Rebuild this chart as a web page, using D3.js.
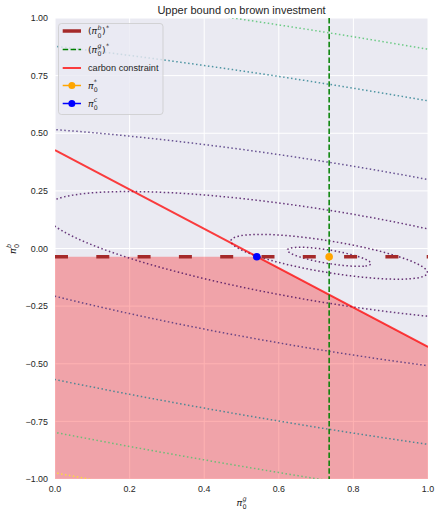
<!DOCTYPE html>
<html>
<head>
<meta charset="utf-8">
<script src="https://cdn.jsdelivr.net/npm/d3@7"></script>
<style>
  body { margin: 0; background: #ffffff; }
  svg { display: block; }
</style>
</head>
<body>
<script>
// ---- data -------------------------------------------------------------
const greenOptimum = 0.735;                 // (π0^g)*
const brownOptimum = -0.036;                // (π0^b)*
const unconstrainedPoint = [0.735, -0.036]; // π0*
const constrainedPoint = [0.541, -0.036];   // π0^c
const carbonX = [0, 1];                     // carbon constraint end points
const carbonY = [0.427, -0.427];
// quadratic loss around π0*:  a·Δg² + b·Δg·Δb + c·Δb²
const lossCoefficients = [0.1362, 0.5178, 1];
const lossLevels = [0.00087, 0.0048, 0.0407, 0.168, 0.56, 0.944, 1.308];
const xTicks = [0, 0.2, 0.4, 0.6, 0.8, 1.0];
const yTicks = [-1, -0.75, -0.5, -0.25, 0, 0.25, 0.5, 0.75, 1];

// ---- layout -----------------------------------------------------------
const W = 435, H = 510;
const plot = { left: 55, right: 428, top: 18, bottom: 479 };
const textColor = "#262626";
const sans = "'Liberation Sans', Arial, sans-serif";
const mathFont = "'DejaVu Sans', sans-serif";

const x = d3.scaleLinear().domain([0, 1]).range([plot.left, plot.right]);
const y = d3.scaleLinear().domain([-1, 1]).range([plot.bottom, plot.top]);
const carbon = d3.scaleLinear().domain(carbonX).range(carbonY);

const svg = d3.select("body").append("svg").attr("width", W).attr("height", H);

svg.append("defs").append("clipPath").attr("id", "plotClip")
  .append("rect")
  .attr("x", plot.left).attr("y", plot.top)
  .attr("width", plot.right - plot.left).attr("height", plot.bottom - plot.top);

// background
svg.append("rect")
  .attr("x", plot.left).attr("y", plot.top)
  .attr("width", plot.right - plot.left).attr("height", plot.bottom - plot.top)
  .attr("fill", "#eaeaf2");

// grid
const grid = svg.append("g").attr("stroke", "#ffffff").attr("stroke-width", 1);
grid.selectAll(".gx").data(xTicks).join("line")
  .attr("x1", d => x(d)).attr("x2", d => x(d))
  .attr("y1", plot.top).attr("y2", plot.bottom);
grid.selectAll(".gy").data(yTicks).join("line")
  .attr("x1", plot.left).attr("x2", plot.right)
  .attr("y1", d => y(d)).attr("y2", d => y(d));

const inner = svg.append("g").attr("clip-path", "url(#plotClip)");

// feasible region: below both the brown bound and the carbon constraint
const fillXs = [0, constrainedPoint[0], 1];
inner.append("path")
  .datum(fillXs)
  .attr("d", d3.area()
    .x(d => x(d))
    .y0(y(-1))
    .y1(d => y(Math.min(brownOptimum, carbon(d)))))
  .attr("fill", "#ff0000")
  .attr("fill-opacity", 0.3);

// contours of the loss
const g0 = -0.5, b0 = 1.5, step = 0.004;
const nx = Math.round(2 / step) + 1, ny = Math.round(3 / step) + 1;
const [ca, cb, cc] = lossCoefficients;
const values = new Float64Array(nx * ny);
for (let j = 0; j < ny; j++) {
  const db = (b0 - j * step) - unconstrainedPoint[1];
  for (let i = 0; i < nx; i++) {
    const dg = (g0 + i * step) - unconstrainedPoint[0];
    values[j * nx + i] = ca * dg * dg + cb * dg * db + cc * db * db;
  }
}
const contours = d3.contours().size([nx, ny]).thresholds(lossLevels)(values);
const toPlot = d3.geoTransform({
  point(px, py) {
    this.stream.point(x(g0 + (px - 0.5) * step), y(b0 - (py - 0.5) * step));
  }
});
const colour = d3.scaleSequential(d3.interpolateViridis)
  .domain(d3.extent(lossLevels));
inner.append("g").selectAll("path").data(contours).join("path")
  .attr("d", d3.geoPath(toPlot))
  .attr("fill", "none")
  .attr("stroke", d => colour(d.value))
  .attr("stroke-opacity", 0.8)
  .attr("stroke-width", 1.5)
  .attr("stroke-dasharray", "1.5,2.5");

// carbon constraint
inner.append("path")
  .datum(carbonX)
  .attr("d", d3.line().x(d => x(d)).y(d => y(carbon(d))))
  .attr("stroke", "#ff0000").attr("stroke-opacity", 0.75)
  .attr("stroke-width", 2).attr("fill", "none");

// (π0^b)* bound
inner.append("line")
  .attr("x1", x(0)).attr("x2", x(1))
  .attr("y1", y(brownOptimum)).attr("y2", y(brownOptimum))
  .attr("stroke", "#a52a2a").attr("stroke-width", 3.5)
  .attr("stroke-dasharray", "13,28.3");

// (π0^g)* bound
inner.append("line")
  .attr("x1", x(greenOptimum)).attr("x2", x(greenOptimum))
  .attr("y1", y(1)).attr("y2", y(-1))
  .attr("stroke", "#008000").attr("stroke-width", 1.5)
  .attr("stroke-dasharray", "5.5,2.4");

// points
inner.append("circle")
  .attr("cx", x(unconstrainedPoint[0])).attr("cy", y(unconstrainedPoint[1]))
  .attr("r", 3.8).attr("fill", "#ffa500");
inner.append("circle")
  .attr("cx", x(constrainedPoint[0])).attr("cy", y(constrainedPoint[1]))
  .attr("r", 3.8).attr("fill", "#0000ff");

// ---- tick labels ------------------------------------------------------
const fmtX = d3.format(".1f");
const fmtY = v => d3.format(".2f")(v).replace("-", "\u2212");
svg.append("g").selectAll("text").data(xTicks).join("text")
  .attr("x", d => x(d)).attr("y", 491.5)
  .attr("text-anchor", "middle")
  .attr("font-family", sans).attr("font-size", 8.9).attr("fill", textColor)
  .text(fmtX);
svg.append("g").selectAll("text").data(yTicks).join("text")
  .attr("x", 48).attr("y", d => y(d) + 3.2)
  .attr("text-anchor", "end")
  .attr("font-family", sans).attr("font-size", 8.9).attr("fill", textColor)
  .text(fmtY);

// title
svg.append("text")
  .attr("x", (plot.left + plot.right) / 2).attr("y", 14)
  .attr("text-anchor", "middle")
  .attr("font-family", sans).attr("font-size", 11).attr("fill", textColor)
  .text("Upper bound on brown investment");

// ---- math labels ------------------------------------------------------
// One <text> per label; parts are plain runs {s} or a symbol {base}
// carrying stacked scripts {sub, sup}.
function mathLabel(parent, px, py, parts, size, anchor) {
  const t = parent.append("text")
    .attr("x", px).attr("y", py)
    .attr("text-anchor", anchor)
    .attr("font-family", mathFont).attr("font-size", size)
    .attr("fill", textColor);
  let level = 0, pendingDx = 0;
  const span = (str, offset, fs, italic, dx) => {
    const s = t.append("tspan")
      .attr("dy", offset - level)
      .attr("dx", dx)
      .attr("font-size", fs)
      .attr("font-style", italic ? "oblique" : "normal")
      .text(str);
    level = offset;
    return s.node().getComputedTextLength();
  };
  const subOff = size * 0.36, supOff = -size * 0.46, small = size * 0.68;
  parts.forEach(p => {
    if (p.s) { span(p.s, 0, size, false, pendingDx); pendingDx = 0; }
    if (p.base) { span(p.base, 0, size, true, pendingDx); pendingDx = 0; }
    let subW = 0, supW = 0;
    if (p.sub) { subW = span(p.sub, subOff, small, false, pendingDx + 0.3); pendingDx = 0; }
    if (p.sup) {
      supW = span(p.sup, supOff, small, p.supItalic, p.sub ? -subW : pendingDx + 0.3);
      pendingDx = 0;
    }
    if (p.sub || p.sup) pendingDx = Math.max(0, subW - supW) + 0.6;
  });
  return t;
}

// axis labels
mathLabel(svg, (plot.left + plot.right) / 2, 505.5,
  [{ base: "\u03c0", sub: "0", sup: "g", supItalic: true }], 9.5, "middle");
const yl = svg.append("g").attr("transform", "translate(15.5,249) rotate(-90)");
mathLabel(yl, 0, 0,
  [{ base: "\u03c0", sub: "0", sup: "b", supItalic: true }], 9.5, "middle");

// ---- legend -----------------------------------------------------------
const legend = svg.append("g");
legend.append("rect")
  .attr("x", 58.5).attr("y", 23.5).attr("width", 104.5).attr("height", 91)
  .attr("rx", 3)
  .attr("fill", "#eaeaf2").attr("fill-opacity", 0.8)
  .attr("stroke", "#cccccc").attr("stroke-opacity", 0.8).attr("stroke-width", 1);

const lx0 = 62.7, lx1 = 81, tx = 88;
const entries = [
  { y: 31, stroke: "#a52a2a", width: 3.5, dash: null,
    label: [{ s: "(" }, { base: "\u03c0", sub: "0", sup: "b", supItalic: true }, { s: ")" }, { sup: "*" }] },
  { y: 49.5, stroke: "#008000", width: 1.5, dash: "5.5,2.4",
    label: [{ s: "(" }, { base: "\u03c0", sub: "0", sup: "g", supItalic: true }, { s: ")" }, { sup: "*" }] },
  { y: 68, stroke: "#ff0000", opacity: 0.75, width: 2, dash: null, text: "carbon constraint" },
  { y: 85.5, stroke: "#ffa500", width: 1.5, dash: null, marker: true,
    label: [{ base: "\u03c0", sub: "0", sup: "*" }] },
  { y: 103.5, stroke: "#0000ff", width: 1.5, dash: null, marker: true,
    label: [{ base: "\u03c0", sub: "0", sup: "c", supItalic: true }] }
];
entries.forEach(e => {
  legend.append("line")
    .attr("x1", lx0).attr("x2", lx1).attr("y1", e.y).attr("y2", e.y)
    .attr("stroke", e.stroke).attr("stroke-width", e.width)
    .attr("stroke-opacity", e.opacity || 1)
    .attr("stroke-dasharray", e.dash);
  if (e.marker) {
    legend.append("circle")
      .attr("cx", (lx0 + lx1) / 2).attr("cy", e.y).attr("r", 3.5)
      .attr("fill", e.stroke);
  }
  if (e.text) {
    legend.append("text")
      .attr("x", tx).attr("y", e.y + 3.2)
      .attr("font-family", sans).attr("font-size", 9.2).attr("fill", textColor)
      .text(e.text);
  } else {
    mathLabel(legend, tx, e.y + 3.2, e.label, 9.2, "start");
  }
});
</script>
</body>
</html>
